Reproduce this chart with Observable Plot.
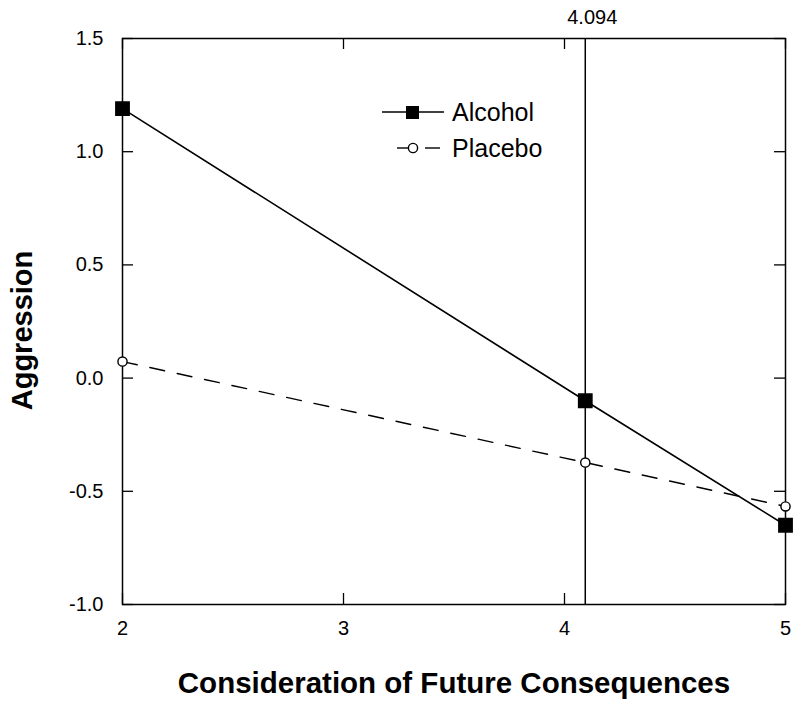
<!DOCTYPE html>
<html>
<head>
<meta charset="utf-8">
<script src="https://cdn.jsdelivr.net/npm/d3@7"></script>
<script src="https://cdn.jsdelivr.net/npm/@observablehq/plot@0.6"></script>
<style>
  html, body { margin: 0; padding: 0; background: #fff; }
  #wrap { position: relative; width: 800px; height: 712px; font-family: "Liberation Sans", Arial, sans-serif; }
  #legend { position: absolute; left: 0; top: 0; pointer-events: none; }
</style>
</head>
<body>
<div id="wrap"></div>
<script>
// Data
const cfc = [2, 4.094, 5];
const alcohol = [1.19, -0.10, -0.65];
const placebo = [0.073, -0.373, -0.567];
const xTicks = [2, 3, 4, 5];
const yTicks = [-1.0, -0.5, 0.0, 0.5, 1.0, 1.5];
const markerLine = [4.094];
const seriesNames = ["Alcohol", "Placebo"];

const alcData = cfc.map((x, i) => ({x, y: alcohol[i]}));
const plaData = cfc.map((x, i) => ({x, y: placebo[i]}));

const W = 800, H = 712;
const mL = 122, mR = 15, mT = 38, mB = 108;
const pw = W - mL - mR, ph = H - mT - mB;
const tk = 11;
const font = "Liberation Sans, Arial, sans-serif";

const chart = Plot.plot({
  width: W, height: H,
  marginLeft: mL, marginRight: mR, marginTop: mT, marginBottom: mB,
  style: {fontFamily: font, fontSize: "20px", color: "#000", background: "#fff"},
  x: {domain: [2, 5]},
  y: {domain: [-1, 1.5]},
  marks: [
    Plot.frame({stroke: "#000", strokeWidth: 1.5}),
    // inward ticks
    Plot.ruleY(yTicks, {y: d => d, insetRight: pw - tk, stroke: "#000", strokeWidth: 1.3}),
    Plot.ruleY(yTicks, {y: d => d, insetLeft: pw - tk, stroke: "#000", strokeWidth: 1.3}),
    Plot.ruleX(xTicks, {x: d => d, insetTop: ph - tk, stroke: "#000", strokeWidth: 1.3}),
    Plot.ruleX(xTicks, {x: d => d, insetBottom: ph - tk, stroke: "#000", strokeWidth: 1.3}),
    Plot.axisY(yTicks, {tickSize: 0, tickPadding: 19, tickFormat: d => d.toFixed(1), fontSize: 20, label: null}),
    Plot.axisX(xTicks, {tickSize: 0, tickPadding: 16, tickFormat: d => String(d), fontSize: 20, label: null}),
    Plot.ruleX(markerLine, {x: d => d, stroke: "#000", strokeWidth: 1.5}),
    Plot.text(markerLine, {x: d => d, frameAnchor: "top", dy: -29, dx: 7, text: d => d.toFixed(3), fontSize: 20}),
    Plot.line(plaData, {x: "x", y: "y", stroke: "#000", strokeWidth: 1.4, strokeDasharray: "15,13"}),
    Plot.line(alcData, {x: "x", y: "y", stroke: "#000", strokeWidth: 1.6}),
    Plot.dot(plaData, {x: "x", y: "y", r: 4.6, stroke: "#000", strokeWidth: 1.4, fill: "#fff"}),
    Plot.dot(alcData, {x: "x", y: "y", symbol: "square", r: 7.5, fill: "#000", stroke: "#000"}),
    Plot.text(["Consideration of Future Consequences"], {frameAnchor: "bottom", dy: 88, fontSize: 29.5, fontWeight: "bold", text: d => d}),
    Plot.text(["Aggression"], {frameAnchor: "left", textAnchor: "middle", dx: -100, dy: 9, rotate: -90, fontSize: 29, fontWeight: "bold", text: d => d})
  ]
});
document.getElementById("wrap").appendChild(chart);

// legend overlay
const leg = d3.select("#wrap").append("svg").attr("id", "legend").attr("width", W).attr("height", H);
const rows = [
  {name: seriesNames[0], y: 112},
  {name: seriesNames[1], y: 148}
];
// Alcohol row
leg.append("line").attr("x1", 382).attr("x2", 444).attr("y1", 112).attr("y2", 112).attr("stroke", "#000").attr("stroke-width", 1.6);
leg.append("rect").attr("x", 406).attr("y", 106).attr("width", 13).attr("height", 13).attr("fill", "#000");
// Placebo row
leg.append("line").attr("x1", 397).attr("x2", 408).attr("y1", 148).attr("y2", 148).attr("stroke", "#000").attr("stroke-width", 1.4);
leg.append("line").attr("x1", 425).attr("x2", 440).attr("y1", 148).attr("y2", 148).attr("stroke", "#000").attr("stroke-width", 1.4);
leg.append("circle").attr("cx", 413).attr("cy", 148).attr("r", 4.6).attr("fill", "#fff").attr("stroke", "#000").attr("stroke-width", 1.4);
rows.forEach(r => {
  leg.append("text").attr("x", 452).attr("y", r.y + 9).attr("font-family", font).attr("font-size", 25).attr("fill", "#000").text(r.name);
});
</script>
</body>
</html>
